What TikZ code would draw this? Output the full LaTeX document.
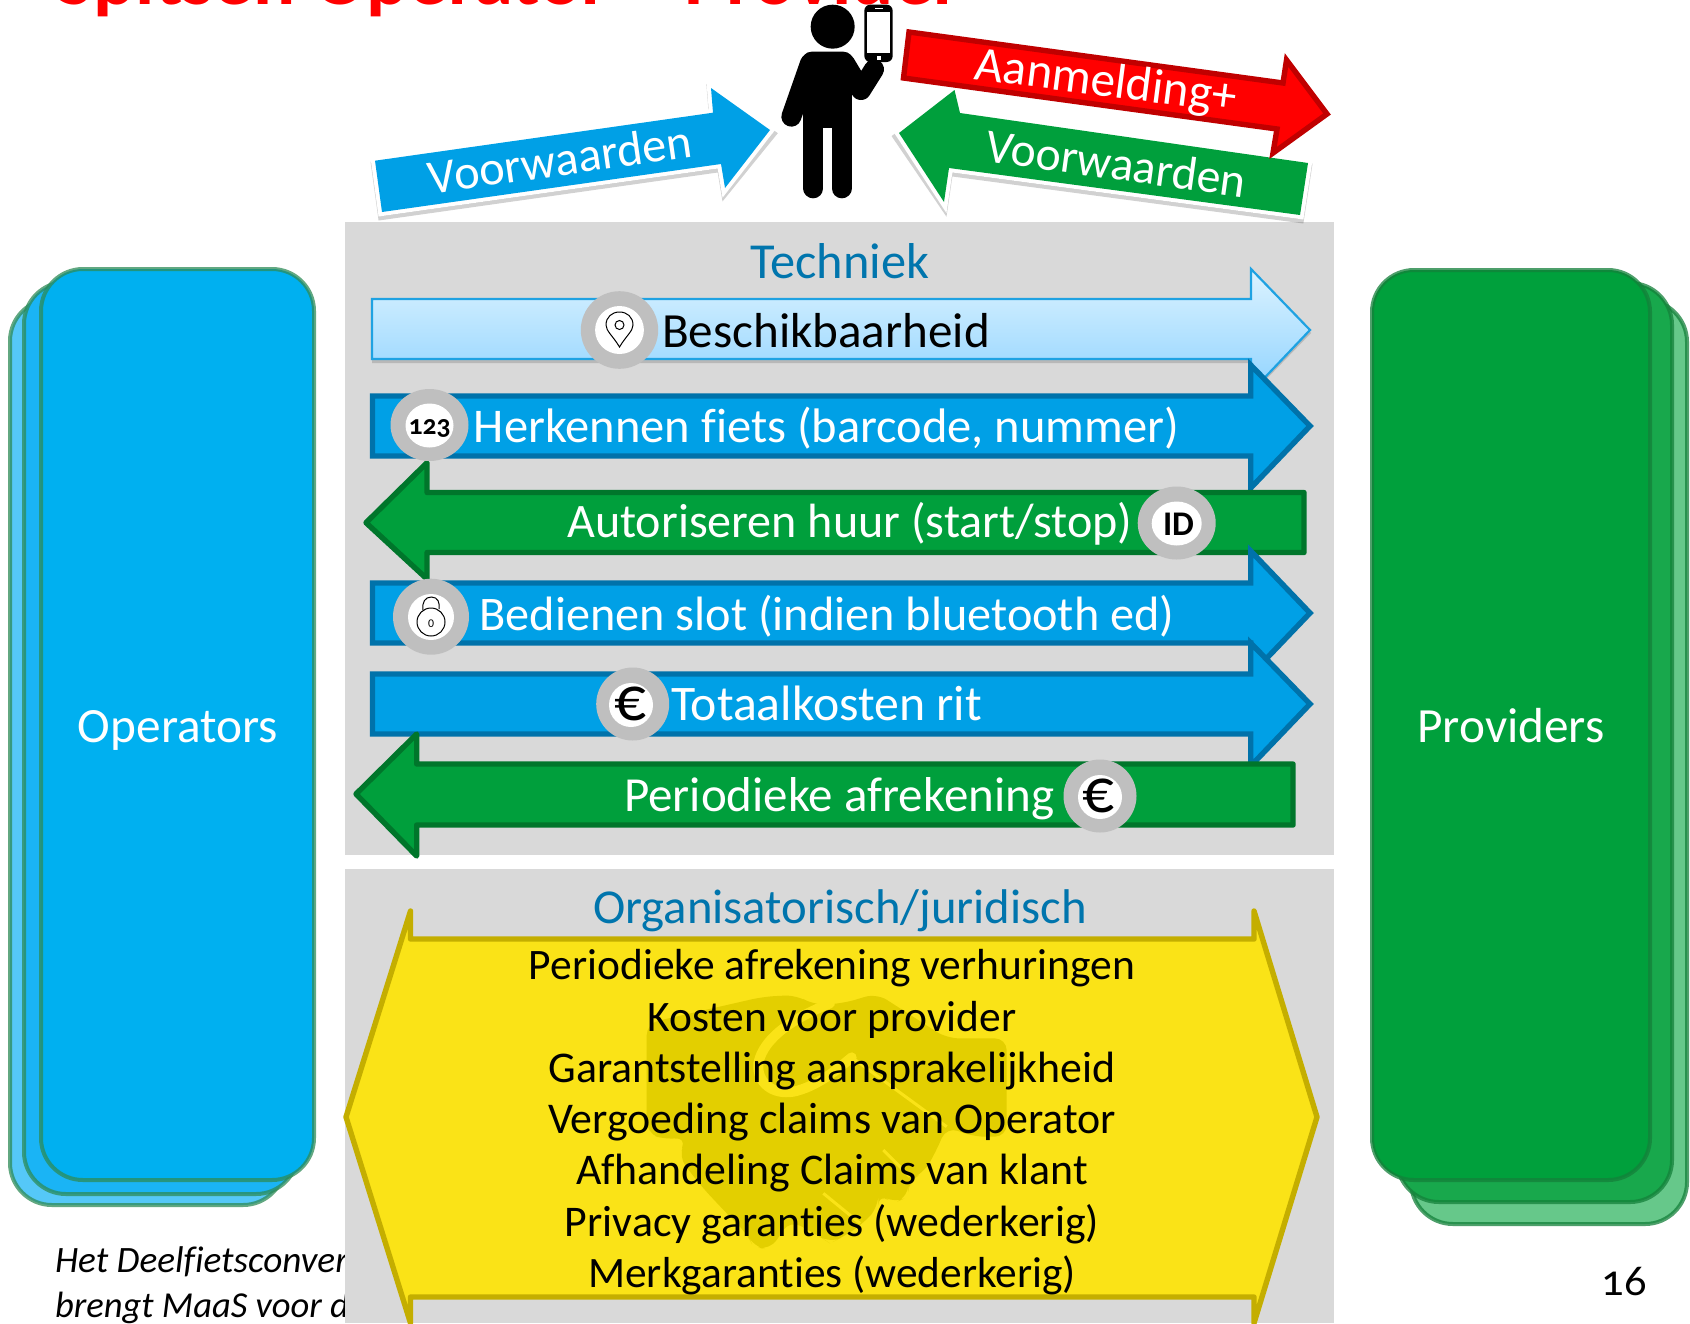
\documentclass[tikz,border=0pt]{standalone}
\usepackage{graphicx}
\usepackage{fontspec}
\setmainfont[Ligatures=NoCommon]{Carlito}
\newfontfamily\oldnum[Numbers=OldStyle,Ligatures=NoCommon]{Carlito}
\newlength\pxu
\setlength\pxu{0.5pt}
\newcommand{\fw}[2]{\resizebox{#1\pxu}{!}{#2}}
\definecolor{panelgray}{HTML}{D9D9D9}
\definecolor{arrblue}{HTML}{00A0E6}
\definecolor{arrbluedk}{HTML}{0072AA}
\definecolor{arrgreen}{HTML}{009F3C}
\definecolor{arrgreendk}{HTML}{00762B}
\definecolor{lightedge}{HTML}{1FA2E2}
\definecolor{lighttop}{HTML}{DCF3FF}
\definecolor{lightbot}{HTML}{90D3FF}
\definecolor{ringgray}{HTML}{BFBFBF}
\definecolor{teal}{HTML}{0075AD}
\definecolor{yellowf}{HTML}{FAE317}
\definecolor{yellowd}{HTML}{C4AE00}
\definecolor{yellowh}{HTML}{E3CF00}
\definecolor{opfront}{HTML}{00B0F0}
\definecolor{opmid}{HTML}{1AB4F5}
\definecolor{opback}{HTML}{55C8F8}
\definecolor{opedge}{HTML}{2E8B57}
\definecolor{prfront}{HTML}{00A03C}
\definecolor{prmid}{HTML}{18A84C}
\definecolor{prback}{HTML}{66C88A}
\definecolor{predge}{HTML}{14803A}
\definecolor{redf}{HTML}{FF0000}
\definecolor{redd}{HTML}{C00000}
\tikzset{
  lbl/.style={inner sep=0pt,outer sep=0pt,anchor=base,font=\fontsize{24}{28}\selectfont},
  wlbl/.style={lbl,text=white},
  tlbl/.style={lbl,text=teal},
  blbl/.style={lbl,text=black},
  bluearr/.style={fill=arrblue,draw=arrbluedk,line width=2.7pt,miter limit=10},
  greenarr/.style={fill=arrgreen,draw=arrgreendk,line width=2.7pt,line join=round},
  lightarr/.style={top color=lighttop,bottom color=lightbot,draw=lightedge,line width=1.1pt},
  ringf/.style={fill=ringgray},
  holef/.style={fill=white},
  opcard/.style={draw=opedge,draw opacity=.75,line width=2pt,rounded corners=21pt},
  prcard/.style={draw=predge,draw opacity=.75,line width=2pt,rounded corners=21pt},
  outlined/.style={draw=white,fill=white,line width=4pt,line join=miter,miter limit=3},
  softshadow/.style={draw=black,fill=black,opacity=.18,line width=4pt,line join=miter,miter limit=3},
}
\begin{document}
\begin{tikzpicture}[x=0.5pt,y=-0.5pt]
\useasboundingbox (0,0) rectangle (1690,1323);
\clip (0,0) rectangle (1690,1323);
\fill[white] (0,0) rectangle (1690,1323);

% title, cut by the page top
\node[lbl,text=redf,font=\fontsize{24}{28}\selectfont\bfseries] (title) at (509,4) {\fw{905}{Spitsen Operator -- Provider}};

% footer text (covered by the panel)
\node[blbl,anchor=base west,font=\fontsize{24}{28}\selectfont\itshape] (foot1) at (55,1272) {\fw{293}{Het Deelfietsconver}};
\node[blbl,anchor=base west,font=\fontsize{24}{28}\selectfont\itshape] (foot2) at (55,1317) {\fw{294}{brengt MaaS voor d}};
\node[blbl,font=\fontsize{24}{28}\selectfont\oldnum] (pagenum) at (1624,1295) {\fw{45}{16}};

% operators stack
\filldraw[opcard,fill=opback] (10,299) rectangle (285,1205);
\filldraw[opcard,fill=opmid] (24,282) rectangle (298,1194);
\filldraw[opcard,fill=opfront] (41,269) rectangle (314,1180);
\node[wlbl] (operators) at (178,742) {\fw{200}{Operators}};

% providers stack
\filldraw[prcard,fill=prback] (1411,300) rectangle (1687,1224);
\filldraw[prcard,fill=prmid] (1397,283) rectangle (1672,1202);
\filldraw[prcard,fill=prfront] (1372,270) rectangle (1650,1180);
\node[wlbl] (providers) at (1511,742) {\fw{187}{Providers}};

% panels
\fill[panelgray] (345,222) rectangle (1334,855);
\fill[panelgray] (345,869) rectangle (1334,1323);
\node[tlbl] (techniek) at (839.5,278) {\fw{179}{Techniek}};
\node[tlbl] (orgjur) at (840,923.5) {\fw{494}{Organisatorisch/juridisch}};

% person
\begin{scope}[shift={(760,0)},x=0.16667pt,y=-0.16667pt]
  \fill[black] (218,80) circle [radius=66];
  \draw[black,line width=10pt,line cap=round] (150,190) -- (94,350);
  \fill[black,rounded corners=5pt] (125,155) rectangle (280,260);
  \fill[black] (130,200) rectangle (275,385);
  \draw[black,line width=10pt,line cap=round] (160,380) -- (160,565);
  \draw[black,line width=10pt,line cap=round] (245,380) -- (245,565);
  \draw[black,line width=10pt,line cap=round,line join=round] (255,190) -- (303,270) -- (342,208);
  \fill[black,rounded corners=3pt] (313,14) rectangle (398,186);
  \fill[white] (322,36) rectangle (391,160);
  \fill[white] (345,23) rectangle (370,27);
  \fill[white] (350,167) rectangle (362,180);
\end{scope}

% green Voorwaarden
\path[softshadow] (897,137) -- (954.5,94) -- (960,117) -- (1308,167) -- (1300,219) -- (949,172) -- (944,206) -- cycle;
\path[outlined] (899,133) -- (954.5,90) -- (960,113) -- (1308,163) -- (1300,215) -- (949,168) -- (944,202) -- cycle;
\fill[arrgreen] (899,133) -- (954.5,90) -- (960,113) -- (1308,163) -- (1300,215) -- (949,168) -- (944,202) -- cycle;
\node[wlbl,rotate=-7.9] (voorw2) at (1114,179.5) {\fw{262}{Voorwaarden}};

% red Aanmelding+
\filldraw[fill=redf,draw=redd,line width=2.7pt,miter limit=10] (909,32) -- (1283,83) -- (1286.5,60) -- (1327,114) -- (1273,153) -- (1277,129) -- (903.5,78) -- cycle;
\node[wlbl,rotate=-7.4] (aanm) at (1104,96) {\fw{263}{Aanmelding+}};

% blue Voorwaarden
\path[softshadow] (375,165) -- (713,117) -- (711,92) -- (772,134) -- (725,192) -- (721,168) -- (382,216) -- cycle;
\path[outlined] (375,160.7) -- (713,112.7) -- (711,88) -- (770,130) -- (725,188) -- (721,164) -- (382,212) -- cycle;
\fill[arrblue] (375,160.7) -- (713,112.7) -- (711,88) -- (770,130) -- (725,188) -- (721,164) -- (382,212) -- cycle;
\node[wlbl,rotate=8.1] (voorw1) at (562,175.5) {\fw{265}{Voorwaarden}};

% Techniek arrows
\fill[black,opacity=.15] (372,302) -- (1251,302) -- (1251,271) -- (1311,333) -- (1251,395) -- (1251,363) -- (372,363) -- cycle;
\filldraw[lightarr] (372,299) -- (1251,299) -- (1251,269) -- (1310,330) -- (1251,392) -- (1251,359) -- (372,359) -- cycle;
\filldraw[bluearr] (372.5,396) -- (1250.7,396) -- (1250.7,365) -- (1310,426) -- (1250.7,488) -- (1250.7,456) -- (372.5,456) -- cycle;
\filldraw[greenarr] (1304,492.5) -- (427,492.5) -- (427,462.7) -- (366,522.7) -- (427,579) -- (427,552.5) -- (1304,552.5) -- cycle;
\filldraw[bluearr] (372.5,583) -- (1250.7,583) -- (1250.7,551) -- (1310,613) -- (1250.7,675) -- (1250.7,643) -- (372.5,643) -- cycle;
\filldraw[bluearr] (372.5,674) -- (1250.7,674) -- (1250.7,643) -- (1310,704) -- (1250.7,766) -- (1250.7,734) -- (372.5,734) -- cycle;
\filldraw[greenarr] (1293,764) -- (416.7,764) -- (416.7,734) -- (356,794) -- (416.7,856) -- (416.7,825) -- (1293,825) -- cycle;

% rings
\fill[ringf] (619.5,330) ellipse [x radius=38.7,y radius=38.8];
\fill[holef] (619.5,330) ellipse [x radius=24.4,y radius=24];
\fill[ringf] (429.5,425) ellipse [x radius=39,y radius=36];
\fill[holef] (429.5,425.5) ellipse [x radius=24,y radius=22];
\fill[ringf] (1176.7,523) ellipse [x radius=39,y radius=36.5];
\fill[holef] (1176.7,523.5) ellipse [x radius=25,y radius=22];
\fill[ringf] (431,616.7) ellipse [x radius=38,y radius=38];
\fill[holef] (431,617) ellipse [x radius=23,y radius=23];
\fill[ringf] (632.7,704) ellipse [x radius=36.5,y radius=36.5];
\fill[holef] (631,705) ellipse [x radius=22,y radius=22];
\fill[ringf] (1100,796) ellipse [x radius=36.5,y radius=36.5];
\fill[holef] (1100,797) ellipse [x radius=22,y radius=22];

% icons
\draw[black,line width=.5pt] (619.5,347) .. controls (613,336) and (606,331) .. (606,325) .. controls (606,317) and (612,312) .. (619.5,312) .. controls (627,312) and (633,317) .. (633,325) .. controls (633,331) and (626,336) .. (619.5,347) -- cycle;
\draw[black,line width=.5pt] (619.5,325) circle [radius=4.5];
\node[blbl,font=\fontsize{24}{28}\selectfont\oldnum\bfseries] (i123) at (429.5,434) {\fw{42}{123}};
\node[blbl,font=\fontsize{24}{28}\selectfont\bfseries] (iid) at (1178.5,535) {\fw{31}{ID}};
\draw[black,line width=.5pt] (431,622) circle [radius=14];
\draw[black,line width=.5pt] (423,610) .. controls (422,602) and (425,597) .. (431.5,597) .. controls (438,597) and (440,603) .. (439,609);
\node[blbl] (izero) at (431,627) {\fw{6}{0}};
\node[blbl,font=\fontsize{24}{28}\selectfont] (ieur1) at (630,720) {\fw{32}{€}};
\node[blbl,font=\fontsize{24}{28}\selectfont] (ieur2) at (1098,812) {\fw{32}{€}};

% arrow labels
\node[blbl] (besch) at (826,347) {\fw{328}{Beschikbaarheid}};
\node[wlbl] (herk) at (826.5,442) {\fw{705}{Herkennen fiets (barcode, nummer)}};
\node[wlbl] (auto) at (849.7,537.7) {\fw{565}{Autoriseren huur (start/stop)}};
\node[wlbl] (bedi) at (827,630) {\fw{695}{Bedienen slot (indien bluetooth ed)}};
\node[wlbl] (tota) at (826.5,720) {\fw{311}{Totaalkosten rit}};
\node[wlbl] (peri) at (839,811) {\fw{430}{Periodieke afrekening}};

% yellow double arrow
\filldraw[fill=yellowf,draw=yellowd,line width=2.7pt,line join=round] (346,1117) -- (410.5,911) -- (410.5,939) -- (1254,939) -- (1254,911) -- (1317,1117) -- (1254,1323) -- (1254,1297) -- (410.5,1297) -- (410.5,1323) -- cycle;

% handshake watermark
\begin{scope}[shift={(630,980)},x=0.16667pt,y=-0.16667pt]
  \fill[yellowh,rounded corners=6pt] (50,130) -- (400,50) -- (500,45) -- (550,75) -- (640,70) -- (740,40) -- (950,175) -- (1130,175) -- (1130,470) -- (1030,470) -- (950,440) -- (915,520) -- (880,580) -- (835,600) -- (835,650) -- (790,670) -- (745,640) -- (745,680) -- (700,730) -- (640,770) -- (600,790) -- (570,770) -- (480,720) -- (420,810) -- (370,800) -- (350,760) -- (290,700) -- (215,620) -- (145,530) -- (170,470) -- (110,480) -- (50,460) -- cycle;
  \draw[yellowf,line width=5pt,line cap=round] (600,70) .. controls (500,110) and (400,170) .. (385,250) .. controls (380,310) and (430,345) .. (490,335) .. controls (560,320) and (620,270) .. (665,232);
  \draw[yellowf,line width=1.5pt] (760,510) -- (840,590);
  \draw[yellowf,line width=1.5pt] (580,640) -- (690,730);
  \draw[yellowf,line width=1.5pt] (665,232) -- (950,440);
\end{scope}

% yellow arrow text
\node[blbl] (o1) at (832,979) {\fw{606}{Periodieke afrekening verhuringen}};
\node[blbl] (o2) at (832,1031.7) {\fw{369}{Kosten voor provider}};
\node[blbl] (o3) at (832,1082.7) {\fw{567}{Garantstelling aansprakelijkheid}};
\node[blbl] (o4) at (832,1133.7) {\fw{568}{Vergoeding claims van Operator}};
\node[blbl] (o5) at (832,1184) {\fw{512}{Afhandeling Claims van klant}};
\node[blbl] (o6) at (832,1236) {\fw{534}{Privacy garanties (wederkerig)}};
\node[blbl] (o7) at (832,1287.7) {\fw{487.5}{Merkgaranties (wederkerig)}};
\end{tikzpicture}
\end{document}
